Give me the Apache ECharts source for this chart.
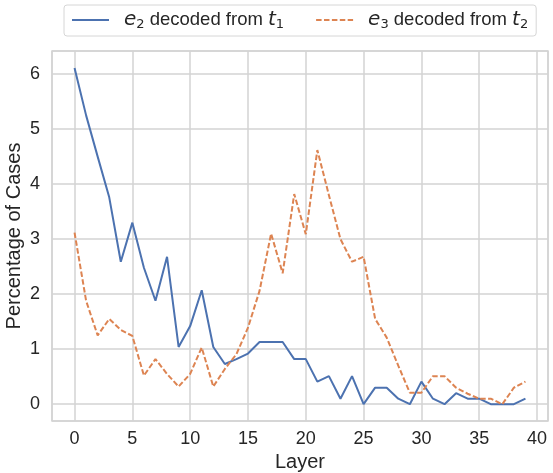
<!DOCTYPE html>
<html>
<head>
<meta charset="utf-8">
<script src="https://cdn.jsdelivr.net/npm/echarts@6/dist/echarts.min.js"></script>
<style>
  html, body { margin: 0; padding: 0; background: #fff; }
  #main { width: 553px; height: 473px; }
</style>
</head>
<body>
<div id="main"></div>
<script>
// layer index 0..39
var layers = [];
for (var i = 0; i < 40; i++) layers.push(i);

// e2 decoded from t1
var e2Values = [6.11, 5.25, 4.5, 3.76, 2.59, 3.30, 2.48, 1.88, 2.68, 1.04,
                1.42, 2.07, 1.04, 0.73, 0.82, 0.92, 1.13, 1.13, 1.13, 0.82,
                0.82, 0.41, 0.51, 0.10, 0.51, 0.00, 0.30, 0.30, 0.10, 0.00,
                0.41, 0.10, 0.00, 0.20, 0.10, 0.10, 0.00, 0.00, 0.00, 0.10];
// e3 decoded from t2
var e3Values = [3.12, 1.88, 1.25, 1.55, 1.35, 1.24, 0.52, 0.82, 0.55, 0.32,
                0.55, 1.03, 0.32, 0.64, 0.91, 1.39, 2.06, 3.10, 2.38, 3.82,
                3.09, 4.62, 3.80, 3.00, 2.59, 2.68, 1.55, 1.21, 0.70, 0.21,
                0.21, 0.51, 0.51, 0.30, 0.19, 0.10, 0.10, 0.00, 0.30, 0.41];

var xTicks = [0, 5, 10, 15, 20, 25, 30, 35, 40];
var yTicks = [0, 1, 2, 3, 4, 5, 6];

function pairs(xs, ys) {
  return xs.map(function (x, i) { return [x, ys[i]]; });
}

var myChart = echarts.init(document.getElementById('main'));
var textColor = '#262626';
var gridColor = '#d3d3d3';

var option = {
  backgroundColor: '#fff',
  animation: false,
  textStyle: { fontFamily: 'Liberation Sans, Arial, sans-serif' },
  grid: {
    left: 52, right: 5, top: 51, bottom: 52,
    outerBoundsMode: 'none',
    containLabel: false,
    show: true, borderColor: gridColor, borderWidth: 1.5
  },
  legend: {
    left: 64, top: 5,
    padding: [5, 8, 5, 7],
    itemWidth: 37, itemHeight: 14,
    itemGap: 31,
    borderColor: '#d6d6d6', borderWidth: 1, borderRadius: 3,
    itemStyle: { opacity: 0, color: 'transparent', borderWidth: 0 },
    data: ['e2', 'e3'],
    formatter: function (name) {
      return name === 'e2'
        ? '{i|e}{s|2}{n| decoded from }{i|t}{s|1}'
        : '{i|e}{s|3}{n| decoded from }{i|t}{s|2}';
    },
    textStyle: {
      color: textColor,
      padding: [0, 0, 0, 10],
      rich: {
        n: { fontSize: 18.5, fontFamily: 'Liberation Sans', color: textColor, lineHeight: 22 },
        i: { fontSize: 20, fontFamily: 'DejaVu Sans', fontStyle: 'italic', color: textColor, lineHeight: 22 },
        s: { fontSize: 13, fontFamily: 'DejaVu Sans', color: textColor, verticalAlign: 'bottom', lineHeight: 18 }
      }
    }
  },
  xAxis: {
    type: 'value',
    min: -1.95, max: 40.95,
    splitNumber: 8,
    name: 'Layer',
    nameLocation: 'middle',
    nameGap: 31,
    nameMoveOverlap: false,
    nameTextStyle: { fontSize: 20, color: textColor, fontFamily: 'Liberation Sans' },
    axisLine: { show: false },
    axisTick: { show: false },
    axisLabel: {
      fontSize: 18, color: textColor, margin: 9,
      formatter: function (v) { return xTicks.indexOf(v) >= 0 ? String(v) : ''; }
    },
    splitLine: { show: true, lineStyle: { color: gridColor, width: 1.5 } }
  },
  yAxis: {
    type: 'value',
    min: -0.3055, max: 6.42,
    splitNumber: 7,
    name: 'Percentage of Cases',
    nameLocation: 'middle',
    nameGap: 28,
    nameMoveOverlap: false,
    nameTextStyle: { fontSize: 20, color: textColor, fontFamily: 'Liberation Sans' },
    axisLine: { show: false },
    axisTick: { show: false },
    axisLabel: {
      fontSize: 18, color: textColor, margin: 12,
      formatter: function (v) { return yTicks.indexOf(v) >= 0 ? String(v) : ''; }
    },
    splitLine: { show: true, lineStyle: { color: gridColor, width: 1.5 } }
  },
  series: [{
    name: 'e2',
    type: 'line',
    symbol: 'none',
    data: pairs(layers, e2Values),
    itemStyle: { color: '#4c72b0' },
    lineStyle: { color: '#4c72b0', width: 2 }
  }, {
    name: 'e3',
    type: 'line',
    symbol: 'none',
    data: pairs(layers, e3Values),
    itemStyle: { color: '#dd8452' },
    lineStyle: { color: '#dd8452', width: 2, type: [5.5, 2.4] }
  }]
};
myChart.setOption(option);
</script>
</body>
</html>
